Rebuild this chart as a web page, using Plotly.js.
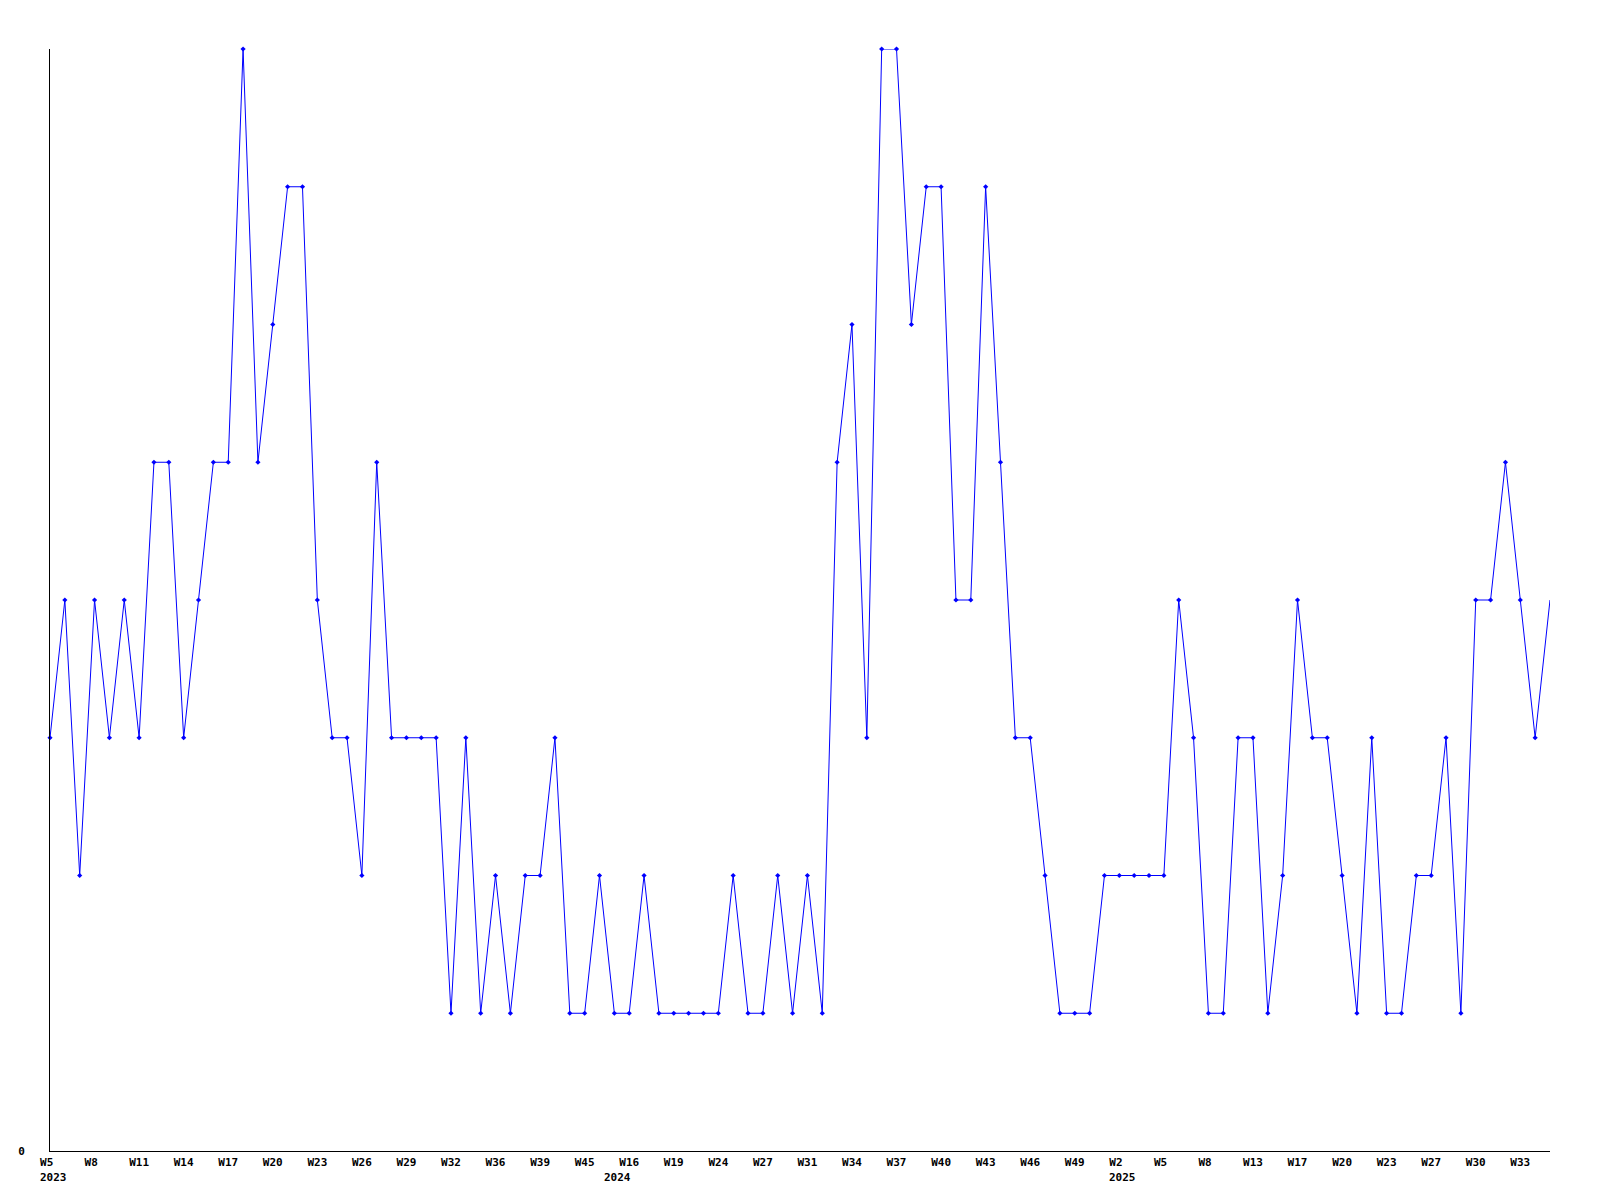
<!DOCTYPE html>
<html>
<head>
<meta charset="utf-8">
<script src="https://cdn.plot.ly/plotly-3.0.1.min.js"></script>
<style>
  html, body { margin: 0; padding: 0; background: #fff; }
  #chart { width: 1600px; height: 1200px; }
</style>
</head>
<body>
<div id="chart"></div>
<script>
// Weekly values, one per sample
const counts = [
  3,4,2,4,3,4,3,5,5,3,
  4,5,5,8,5,6,7,7,4,3,
  3,2,5,3,3,3,3,1,3,1,
  2,1,2,2,3,1,1,2,1,1,
  2,1,1,1,1,1,2,1,1,2,
  1,2,1,5,6,3,8,8,6,7,
  7,4,4,7,5,3,3,2,1,1,
  1,2,2,2,2,2,4,3,1,1,
  3,3,1,2,4,3,3,2,1,3,
  1,1,2,2,3,1,4,4,5,4,
  3,4
];

// Week labels, shown on every third sample
const weekLabels = [
  'W5','W8','W11','W14','W17','W20','W23','W26','W29','W32','W36','W39',
  'W45','W16','W19','W24','W27','W31','W34','W37','W40','W43','W46','W49',
  'W2','W5','W8','W13','W17','W20','W23','W27','W30','W33'
];
const labelStep = 3;

// Year labels and the sample index where each year starts
const yearLabels = ['2023', '2024', '2025'];
const yearStart = [0, 38, 72];

const yTickVals = [0];
const yTickText = ['0'];

const xs = counts.map((_, i) => i);
const tickVals = weekLabels.map((_, i) => i * labelStep);
const NB = '\u00A0';
const tickText = weekLabels.map(w => w.length < 3 ? w + NB.repeat(3 - w.length) : w);

const FONT = { family: 'DejaVu Sans Mono, Liberation Mono, monospace', size: 11, color: '#000', weight: 'bold' };

const traces = [
  {
    x: xs, y: counts, type: 'scatter', mode: 'lines',
    line: { color: '#0000ff', width: 1 },
    hoverinfo: 'skip', cliponaxis: false
  },
  {
    x: xs.slice(0, -1), y: counts.slice(0, -1), type: 'scatter', mode: 'markers',
    marker: { color: '#0000ff', size: 4, symbol: 'diamond' },
    cliponaxis: false
  }
];

const annotations = yearLabels.map((t, i) => ({
  x: yearStart[i], xref: 'x', y: 0, yref: 'paper',
  text: t, showarrow: false, xanchor: 'left', yanchor: 'top',
  xshift: -11, yshift: -19, font: FONT, borderpad: 0
}));

const layout = {
  width: 1600, height: 1200,
  margin: { l: 50, r: 50, t: 49, b: 49 },
  paper_bgcolor: '#fff', plot_bgcolor: '#fff',
  showlegend: false,
  xaxis: {
    range: [0, counts.length - 1],
    showline: true, linecolor: '#000', linewidth: 1,
    showgrid: false, zeroline: false, ticks: '',
    tickmode: 'array', tickvals: tickVals, ticktext: tickText,
    tickfont: FONT, tickangle: 0, ticklabelstandoff: 1,
    fixedrange: true
  },
  yaxis: {
    range: [0, 8],
    showline: true, linecolor: '#000', linewidth: 1,
    showgrid: false, zeroline: false, ticks: '',
    tickmode: 'array', tickvals: yTickVals, ticktext: yTickText,
    tickfont: FONT, ticklabelstandoff: 22,
    fixedrange: true
  },
  annotations: annotations
};

Plotly.newPlot('chart', traces, layout, { displayModeBar: false, staticPlot: true });
</script>
</body>
</html>
